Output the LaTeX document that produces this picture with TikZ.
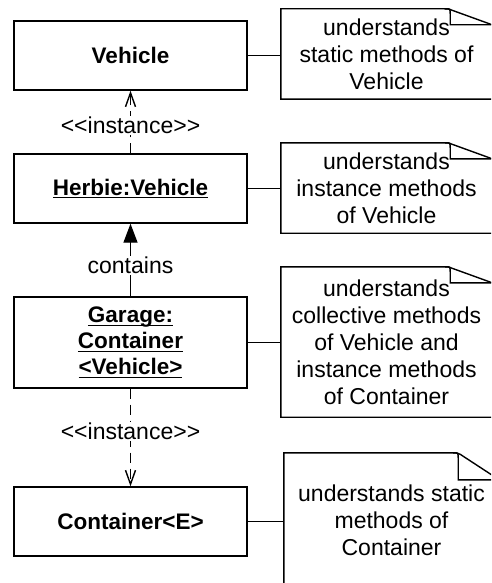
\documentclass[tikz,border=0pt]{standalone}
\usepackage{fontspec}
\setmainfont{Liberation Sans}
\usetikzlibrary{arrows.meta,calc}
\newcommand\ulx[1]{\setbox0\hbox{#1}\rlap{\rule[-3.2pt]{\wd0}{1.3pt}}\box0}
\newcommand\dogear[3]{%
  \draw[outl] ($(#1.north east)+(0,#3)$) -- (#1.south east) -- (#1.south west) -- (#1.north west)
    -- ($(#1.north east)+(-#2-6,0)$) .. controls ($(#1.north east)+(-#2-1,0)$) .. ($(#1.north east)+(-#2+2,1.5)$) -- cycle;
  \draw[outl] ($(#1.north east)+(-#2-5,0)$) .. controls ($(#1.north east)+(-#2,0)$) .. ($(#1.north east)+(-#2,5)$)
    -- ($(#1.north east)+(-#2,#3)$) -- ($(#1.north east)+(0,#3)$);}
\tikzset{
  cls/.style={draw, line width=1.4pt, minimum width=233pt, minimum height=69pt, align=center,
    font=\bfseries\fontsize{22.5}{26}\selectfont, inner sep=0pt},
  notebox/.style={minimum width=211pt, minimum height=90pt, align=center,
    font=\fontsize{23}{27}\selectfont, inner sep=0pt},
  outl/.style={line width=1.4pt, line join=miter},
  conn/.style={line width=1.4pt},
  dep/.style={conn, dash pattern=on 10pt off 6pt, -{Straight Barb[length=14pt,width=10pt]}},
  lbl/.style={fill=white, font=\fontsize{23}{27}\selectfont, inner sep=1pt},
}
\begin{document}
\begin{tikzpicture}[x=1pt,y=-1pt]
  \path[use as bounding box] (0,0) rectangle (491,583);
  \clip (0,0) rectangle (491,583);
  \fill[white] (0,0) rectangle (491,583);

  \node[cls] (veh) at (130.5,55.5) {Vehicle};
  \node[cls] (herbie) at (130.5,188.5) {\ulx{Herbie:Vehicle}};
  \node[cls, minimum height=91pt] (garage) at (130.5,342.5) {\ulx{Garage:}\\\ulx{Container}\\\ulx{<Vehicle>}};
  \node[cls] (cont) at (130.5,521.5) {Container<E>};

  \node[notebox] (n1) at (386.5,54) {understands\\static methods of\\Vehicle};
  \node[notebox] (n2) at (386.5,188) {understands\\instance methods\\of Vehicle};
  \node[notebox, minimum height=150pt] (n3) at (386.5,342) {understands\\collective methods\\of Vehicle and\\instance methods\\of Container};
  \node[notebox, minimum width=215pt, minimum height=134pt] (n4) at (391.5,520) {understands static\\methods of\\Container};

  \dogear{n1}{42}{16}
  \dogear{n2}{42}{16}
  \dogear{n3}{42}{16}
  \dogear{n4}{41}{27}

  \draw[conn] (veh.east) -- (veh.east -| n1.west);
  \draw[conn] (herbie.east) -- (herbie.east -| n2.west);
  \draw[conn] (garage.east) -- (garage.east -| n3.west);
  \draw[conn] (cont.east) -- (cont.east -| n4.west);

  \draw[dep] (herbie.north) -- node[lbl, pos=0.45] {<\kern0pt<instance>\kern0pt>} (veh.south);
  \draw[conn, -{Triangle[length=19pt,width=14pt]}] (garage.north) -- node[lbl, pos=0.43] {contains} (herbie.south);
  \draw[dep] (garage.south) -- node[lbl, pos=0.44] {<\kern0pt<instance>\kern0pt>} (cont.north);
\end{tikzpicture}
\end{document}
